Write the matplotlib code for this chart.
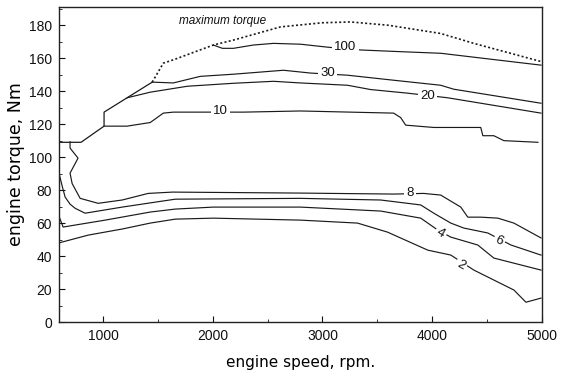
import numpy as np
import matplotlib
matplotlib.use("Agg")
import matplotlib.pyplot as plt
from matplotlib.ticker import MultipleLocator

plt.rcParams["font.family"] = ["Liberation Sans", "DejaVu Sans"]

# ---------------------------------------------------------------------------
# Data (rpm, Nm)
# ---------------------------------------------------------------------------
# solid low-speed part of the full-load boundary
env_rpm = [600, 800, 1010, 1010, 1220, 1449]
env_t = [109, 109, 118.8, 127.3, 136, 145.5]

# dotted maximum torque curve
mt_rpm = [1449, 1550, 1641, 2006, 2189, 2618, 3000, 3257, 3600, 4078, 4380, 4992]
mt_t = [145.5, 157, 159, 168, 171, 179, 181.5, 182, 180, 175, 169, 158]

c100_rpm = [2006, 2088, 2189, 2371, 2554, 2800, 3047, 3348, 3700, 4078, 4992]
c100_t = [168, 166, 166, 168, 169, 168.5, 166.7, 165, 164, 163, 155.8]

c30_rpm = [1449, 1641, 1887, 2189, 2645, 2892, 3229, 3600, 4078, 4197, 4992]
c30_t = [145.5, 145, 149, 150.3, 152.7, 151, 149.7, 147, 143.6, 141.2, 132.7]

c20_rpm = [1220, 1431, 1769, 2189, 2554, 2800, 3229, 3439, 3777, 4142, 4992]
c20_t = [136, 139.4, 143, 144.8, 146, 145, 143.6, 141, 138.8, 136, 126.7]

c10_rpm = [1010, 1220, 1431, 1550, 1641, 1887, 2280, 2800, 3649, 3713, 3759,
           4015, 4443, 4462, 4562, 4654, 4964]
c10_t = [118.8, 118.8, 121, 126.7, 127.3, 127.3, 127.3, 128, 126.7, 124, 119.4,
         118, 118, 113, 113, 110, 109]

c8_rpm = [700, 700, 773, 700, 719, 792, 956, 1175, 1412, 1632, 2800, 3649,
          3923, 4078, 4261, 4325, 4443, 4599, 4745, 4992]
c8_t = [109.3, 105.5, 99.4, 90.3, 84, 75, 72, 74, 78, 78.8, 78.2, 77.6,
        78, 77, 69.7, 63.6, 63.6, 63, 60, 51]

c6_rpm = [600, 630, 655, 700, 746, 837, 1175, 1476, 1659, 2800, 3531, 3896,
          4015, 4170, 4288, 4507, 4718, 4992]
c6_t = [90, 82, 75.8, 71.5, 69, 66, 69.7, 72.7, 74.5, 75, 74, 71,
        66, 60, 57, 54, 46.7, 40.6]

c4_rpm = [600, 637, 746, 1020, 1431, 1659, 2006, 2800, 3531, 3896, 4051,
          4170, 4416, 4562, 4992]
c4_t = [64, 57.6, 58.8, 61.8, 66.7, 68.5, 69.7, 69.7, 67.3, 63, 55.8,
        51.5, 46.7, 38.8, 31.5]

c2_rpm = [600, 865, 1175, 1431, 1659, 2006, 2800, 3320, 3594, 3960, 4170,
          4380, 4745, 4855, 4992]
c2_t = [48, 52.7, 56.4, 60, 62.4, 63, 61.8, 60, 54.5, 43.6, 40.6,
        31.5, 19.4, 12, 14.5]

contours = [
    (c100_rpm, c100_t), (c30_rpm, c30_t), (c20_rpm, c20_t), (c10_rpm, c10_t),
    (c8_rpm, c8_t), (c6_rpm, c6_t), (c4_rpm, c4_t), (c2_rpm, c2_t),
]

# contour labels: text, rpm, torque, rotation
labels = [
    ("100", 3210, 166.5, 0), ("30", 3050, 151, 0), ("20", 3960, 137, 0),
    ("10", 2070, 128, 0), ("8", 3800, 78, 0), ("6", 4608, 49, -25),
    ("4", 4078, 54, -30), ("2", 4261, 34.5, -30),
]

LINE = "#1a1a1a"

fig = plt.figure(figsize=(5.68, 3.74), dpi=100)
ax = fig.add_axes([0.104, 0.139, 0.850, 0.842])

ax.plot(env_rpm, env_t, color=LINE, lw=0.9)
ax.plot(mt_rpm, mt_t, color=LINE, lw=1.2, ls=(0, (1.2, 1.4)))
for r, t in contours:
    ax.plot(r, t, color=LINE, lw=0.85)

for txt, r, t, rot in labels:
    ax.text(r, t, txt, ha="center", va="center", fontsize=9.5, rotation=rot,
            color="#111111",
            bbox=dict(facecolor="white", edgecolor="none", pad=1.5))

ax.text(2090, 182.5, "maximum torque", ha="center", va="center",
        fontsize=8.5, style="italic", color="#111111")

ax.set_xlim(600, 5000)
ax.set_ylim(0, 191)
ax.xaxis.set_major_locator(MultipleLocator(1000))
ax.xaxis.set_minor_locator(MultipleLocator(500))
ax.yaxis.set_major_locator(MultipleLocator(20))
ax.yaxis.set_minor_locator(MultipleLocator(10))
ax.set_yticks(np.arange(0, 181, 20))
ax.tick_params(which="both", direction="in", top=False, right=False,
               labelsize=10, colors="#111111")
ax.tick_params(which="major", length=4, width=0.8, pad=5)
ax.tick_params(which="minor", length=2, width=0.6)
for s in ax.spines.values():
    s.set_linewidth(1.0)
    s.set_color("#222222")

ax.set_xlabel("engine speed, rpm.", fontsize=11, family="DejaVu Sans",
              labelpad=9)
ax.set_ylabel("engine torque, Nm", fontsize=12.5, family="DejaVu Sans",
              labelpad=3)

fig.savefig("out.png", dpi=100)
